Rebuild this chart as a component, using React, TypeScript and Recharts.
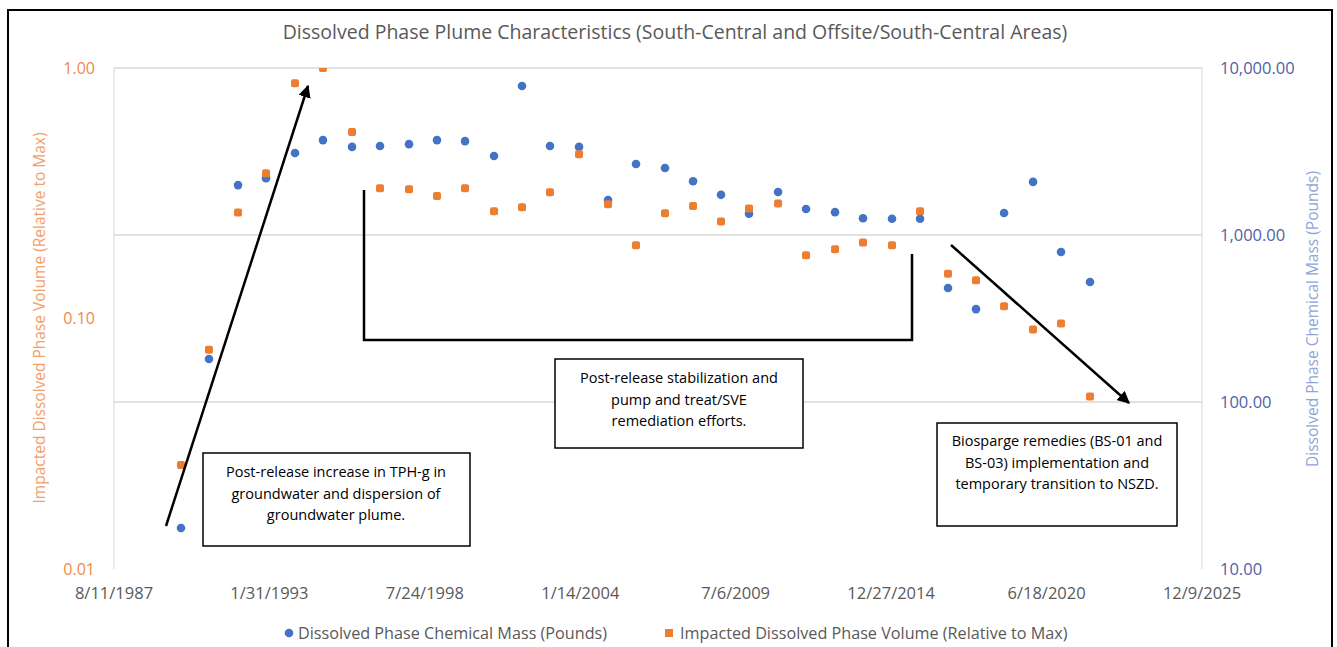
import React from "react";
import { ScatterChart, Scatter, XAxis, YAxis, ReferenceLine } from "recharts";

// Sampling dates as Excel serial day numbers
const sampleDates = [
  32862, 33222, 33596, 33956, 34329, 34689, 35063, 35423, 35796, 36156, 36517,
  36890, 37250, 37610, 37984, 38357, 38717, 39090, 39451, 39811, 40171, 40545,
  40905, 41278, 41638, 42011, 42372, 42732, 43092, 43453, 43826, 44186, 44559,
];
// Dissolved Phase Chemical Mass (Pounds)
const chemicalMass = [
  17.6, 181, 1990, 2190, 3100, 3700, 3370, 3410, 3500, 3700, 3650, 2970, 7800,
  3410, 3370, 1620, 2660, 2520, 2100, 1740, 1340, 1810, 1430, 1370, 1260, 1250,
  1250, 482, 360, 1355, 2080, 791, 523,
];
// Impacted Dissolved Phase Volume (Relative to Max)
const relativeVolume = [
  0.026, 0.075, 0.265, 0.38, 0.87, 1.0, 0.555, 0.331, 0.328, 0.308, 0.331, 0.268,
  0.278, 0.319, 0.453, 0.286, 0.196, 0.263, 0.281, 0.244, 0.275, 0.288, 0.179,
  0.189, 0.201, 0.196, 0.268, 0.151, 0.142, 0.112, 0.0904, 0.0955, 0.0488,
];

const xTicks = [32000, 34000, 36000, 38000, 40000, 42000, 44000, 46000];
const leftTicks = [0.01, 0.1, 1];
const rightTicks = [10, 100, 1000, 10000];
const gridValues = [100, 1000, 10000];

const seriesNames = [
  "Dissolved Phase Chemical Mass (Pounds)",
  "Impacted Dissolved Phase Volume (Relative to Max)",
];
const title =
  "Dissolved Phase Plume Characteristics (South-Central and Offsite/South-Central Areas)";

const annotationBoxes = [
  { x: 203, y: 453, w: 267, h: 93, cx: 336, ty: 477, lines: ["Post-release increase in TPH-g in", "groundwater and dispersion of", "groundwater plume."] },
  { x: 555, y: 359, w: 248, h: 89, cx: 679, ty: 383, lines: ["Post-release stabilization and", "pump and treat/SVE", "remediation efforts."] },
  { x: 937, y: 423, w: 240, h: 103, cx: 1057, ty: 446, lines: ["Biosparge remedies (BS-01 and", "BS-03) implementation and", "temporary transition to NSZD."] },
];

const BLUE = "#4472C4";
const ORANGE = "#ED7D31";
const FONT = "'Open Sans', sans-serif";

const massData = sampleDates.map((d, i) => ({ x: d, y: chemicalMass[i] }));
const volumeData = sampleDates.map((d, i) => ({ x: d, y: relativeVolume[i] }));

function serialToDate(serial: number): string {
  const ms = Date.UTC(1899, 11, 30) + serial * 86400000;
  const dt = new Date(ms);
  return `${dt.getUTCMonth() + 1}/${dt.getUTCDate()}/${dt.getUTCFullYear()}`;
}

function fmtRight(v: number): string {
  return v.toLocaleString("en-US", { minimumFractionDigits: 2, maximumFractionDigits: 2 });
}

const BlueDot = (p: any) => <circle cx={p.cx} cy={p.cy} r={4.3} fill={BLUE} />;
const OrangeDot = (p: any) => (
  <rect x={p.cx - 4} y={p.cy - 4} width={8} height={8} rx={2} fill={ORANGE} />
);

export default function App() {
  return (
    <div style={{ position: "absolute", left: 0, top: 0, width: 1337, height: 647, overflow: "hidden", background: "#fff", fontFamily: FONT }}>
      <div style={{ position: "absolute", left: 7, top: 9, width: 1322, height: 700, border: "2px solid #000" }} />
      <div style={{ position: "absolute", left: 0, top: 0 }}>
        <ScatterChart width={1337} height={647} margin={{ top: 68, right: 55, bottom: 48, left: 54 }}>
          <XAxis
            type="number"
            dataKey="x"
            domain={[32000, 46000]}
            ticks={xTicks}
            allowDataOverflow
            tickFormatter={serialToDate}
            axisLine={false}
            tickLine={false}
            tickSize={10}
            tickMargin={8}
            height={30}
            tick={{ fill: "#595959", fontSize: 16.5, fontFamily: FONT }}
          />
          <YAxis
            yAxisId="left"
            type="number"
            dataKey="y"
            scale="log"
            domain={[0.01, 1]}
            ticks={leftTicks}
            allowDataOverflow
            width={60}
            tickFormatter={(v: number) => v.toFixed(2)}
            axisLine={{ stroke: "#D9D9D9" }}
            tickLine={false}
            tickSize={10}
            tickMargin={9}
            tick={{ fill: "#EE8A4A", fontSize: 16, fontFamily: FONT }}
          />
          <YAxis
            yAxisId="right"
            orientation="right"
            type="number"
            dataKey="y"
            scale="log"
            domain={[10, 10000]}
            ticks={rightTicks}
            allowDataOverflow
            width={80}
            tickFormatter={fmtRight}
            axisLine={{ stroke: "#D9D9D9" }}
            tickLine={false}
            tickSize={10}
            tickMargin={8}
            tick={{ fill: "#4F5FA8", fontSize: 16.5, fontFamily: FONT, textAnchor: "start" }}
          />
          {gridValues.map((g) => (
            <ReferenceLine key={g} yAxisId="right" y={g} stroke="#D9D9D9" strokeWidth={1.5} />
          ))}
          <Scatter name={seriesNames[0]} data={massData} yAxisId="right" shape={BlueDot} isAnimationActive={false} />
          <Scatter name={seriesNames[1]} data={volumeData} yAxisId="left" shape={OrangeDot} isAnimationActive={false} />
        </ScatterChart>
      </div>
      <svg width={1337} height={647} style={{ position: "absolute", left: 0, top: 0, pointerEvents: "none" }}>
        <defs>
          <marker id="ah" viewBox="0 0 10 10" refX="9" refY="5" markerWidth="5" markerHeight="5" orient="auto">
            <path d="M0,0 L10,5 L0,10 z" fill="#000" />
          </marker>
        </defs>
        <text x={675} y={39} textAnchor="middle" fontSize={19.5} fill="#595959" fontFamily={FONT}>{title}</text>
        <text transform="translate(45,318) rotate(-90)" textAnchor="middle" fontSize={15.5} fill="#F2A06A" fontFamily={FONT}>
          Impacted Dissolved Phase Volume (Relative to Max)
        </text>
        <text transform="translate(1318,319) rotate(-90)" textAnchor="middle" fontSize={15.5} fill="#8EA6D8" fontFamily={FONT}>
          Dissolved Phase Chemical Mass (Pounds)
        </text>
        {/* arrows and bracket */}
        <line x1={166} y1={526} x2={308} y2={86} stroke="#000" strokeWidth={2.5} markerEnd="url(#ah)" />
        <polyline points="364,190 364,340 912,340 912,254" fill="none" stroke="#000" strokeWidth={2.5} />
        <line x1={951} y1={245} x2={1129} y2={403} stroke="#000" strokeWidth={2.5} markerEnd="url(#ah)" />
        {annotationBoxes.map((b, i) => (
          <g key={i}>
            <rect x={b.x} y={b.y} width={b.w} height={b.h} fill="#fff" stroke="#000" strokeWidth={1.5} />
            {b.lines.map((l, j) => (
              <text key={j} x={b.cx} y={b.ty + j * 21.5} textAnchor="middle" fontSize={14.5} fill="#000" fontFamily={FONT}>{l}</text>
            ))}
          </g>
        ))}
        {/* legend */}
        <circle cx={289} cy={633} r={4.3} fill={BLUE} />
        <text x={298} y={638.5} fontSize={16.2} fill="#595959" fontFamily={FONT}>{seriesNames[0]}</text>
        <rect x={665} y={629} width={8} height={8} fill={ORANGE} />
        <text x={680} y={638.5} fontSize={16.2} fill="#595959" fontFamily={FONT}>{seriesNames[1]}</text>
      </svg>
    </div>
  );
}
